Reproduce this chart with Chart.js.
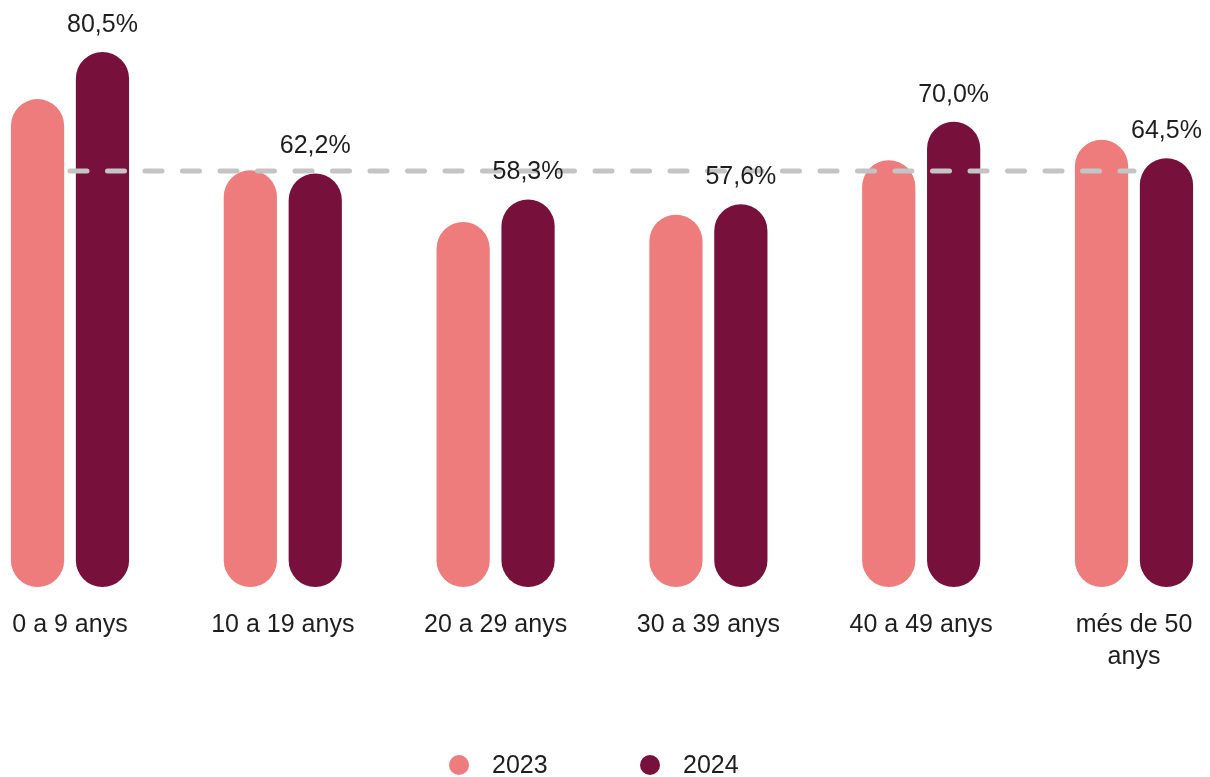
<!DOCTYPE html>
<html>
<head>
<meta charset="utf-8">
<title>Edats</title>
<script src="https://cdn.jsdelivr.net/npm/chart.js@4/dist/chart.umd.min.js"></script>
<style>
  html, body { margin: 0; padding: 0; background: #fff; }
  #wrap { width: 1210px; height: 777px; }
</style>
</head>
<body>
<div id="wrap"><canvas id="edatChart" width="1210" height="777"></canvas></div>
<script>
// Data
const categories = ['0 a 9 anys', '10 a 19 anys', '20 a 29 anys', '30 a 39 anys', '40 a 49 anys', ['més de 50', 'anys']];
const values2023 = [73.4, 62.7, 54.9, 56.0, 64.2, 67.3];
const values2024 = [80.5, 62.2, 58.3, 57.6, 70.0, 64.5];
const averageLine = [62.6, 62.6, 62.6, 62.6, 62.6, 62.6];
const seriesLabels = ['2023', '2024'];

const FONT = "'Liberation Sans', Arial, Helvetica, sans-serif";
const TEXT_COLOR = '#1e1e1e';

function formatPct(v) {
    return v.toFixed(1).replace('.', ',') + '%';
}

// value labels over the 2024 bars
const valueLabels = {
    id: 'valueLabels',
    afterDatasetsDraw(chart) {
        const ctx = chart.ctx;
        const meta = chart.getDatasetMeta(1);
        ctx.save();
        ctx.font = '25px ' + FONT;
        ctx.fillStyle = TEXT_COLOR;
        ctx.textAlign = 'center';
        ctx.textBaseline = 'middle';
        meta.data.forEach(function (bar, i) {
            ctx.fillText(formatPct(values2024[i]), bar.x, bar.y - 27);
        });
        ctx.restore();
    }
};

// simple legend with round markers
const circleLegend = {
    id: 'circleLegend',
    afterDraw(chart) {
        const ctx = chart.ctx;
        ctx.save();
        ctx.font = '25px ' + FONT;
        ctx.textBaseline = 'middle';
        ctx.textAlign = 'left';
        let x = 449;
        const y = 765;
        for (let i = 0; i < 2; i++) {
            const ds = chart.data.datasets[i];
            ctx.fillStyle = ds.backgroundColor;
            ctx.beginPath();
            ctx.arc(x + 10, y, 10, 0, Math.PI * 2);
            ctx.fill();
            ctx.fillStyle = TEXT_COLOR;
            ctx.fillText(ds.label, x + 43, y + 1);
            x += 191;
        }
        ctx.restore();
    }
};

const ctx = document.getElementById('edatChart').getContext('2d');

new Chart(ctx, {
    type: 'bar',
    data: {
        labels: categories,
        datasets: [
            {
                label: seriesLabels[0],
                data: values2023,
                backgroundColor: '#EF7C7C',
                borderRadius: 100,
                borderSkipped: false,
                categoryPercentage: 0.61,
                barPercentage: 0.82,
                clip: false,
                order: 1
            },
            {
                label: seriesLabels[1],
                data: values2024,
                backgroundColor: '#77103B',
                borderRadius: 100,
                borderSkipped: false,
                categoryPercentage: 0.61,
                barPercentage: 0.82,
                clip: false,
                order: 1
            },
            {
                type: 'line',
                label: 'mitjana',
                data: averageLine,
                borderColor: '#C4C4C4',
                borderWidth: 5,
                borderDash: [17, 20.5],
                borderCapStyle: 'round',
                pointRadius: 0,
                fill: false,
                clip: false,
                order: 0
            }
        ]
    },
    options: {
        responsive: false,
        animation: false,
        layout: {
            padding: { top: 22, left: 70, right: 76, bottom: 0 }
        },
        plugins: {
            legend: { display: false },
            tooltip: { enabled: false }
        },
        scales: {
            x: {
                offset: false,
                grid: { display: false, drawTicks: false },
                border: { display: false },
                ticks: {
                    padding: 22,
                    color: TEXT_COLOR,
                    maxRotation: 0,
                    autoSkip: false,
                    font: { family: FONT, size: 25, lineHeight: 1.28 }
                },
                afterFit: function (scale) {
                    scale.height = 190;
                    scale.paddingLeft = 0;
                    scale.paddingRight = 0;
                }
            },
            y: {
                display: false,
                min: 0,
                max: 85
            }
        }
    },
    plugins: [valueLabels, circleLegend]
});
</script>
</body>
</html>
